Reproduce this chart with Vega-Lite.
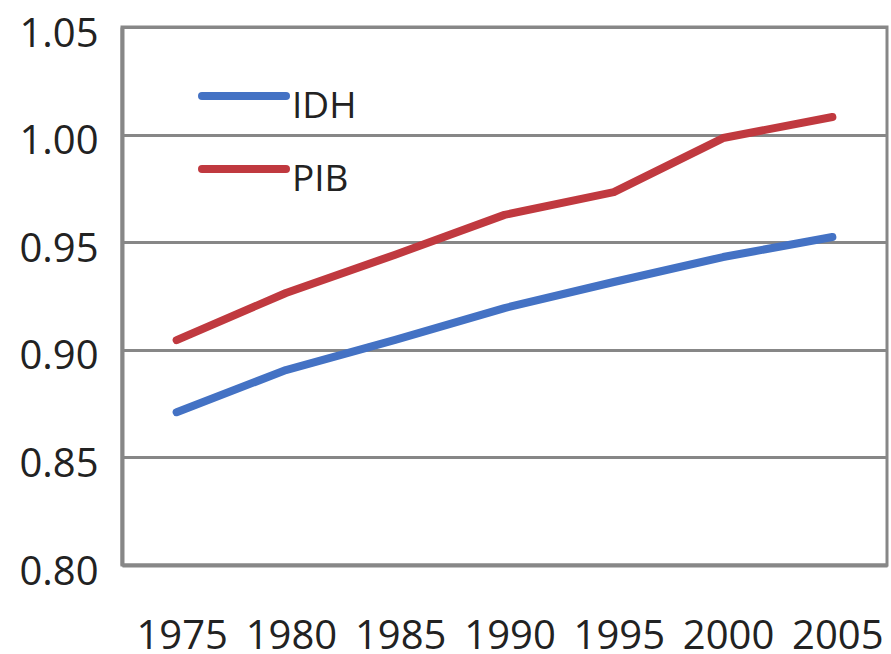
{
  "$schema": "https://vega.github.io/schema/vega-lite/v6.json",
  "width": 765,
  "height": 538,
  "autosize": {"type": "none"},
  "padding": {"left": 122, "top": 27, "right": 4, "bottom": 89},
  "background": "white",
  "config": {
    "view": {"stroke": "#878787", "strokeWidth": 3},
    "font": "Open Sans"
  },
  "data": {
    "values": [
      {"year": "1975", "series": "IDH", "value": 0.871},
      {"year": "1980", "series": "IDH", "value": 0.8906},
      {"year": "1985", "series": "IDH", "value": 0.9046},
      {"year": "1990", "series": "IDH", "value": 0.9194},
      {"year": "1995", "series": "IDH", "value": 0.9315},
      {"year": "2000", "series": "IDH", "value": 0.9431},
      {"year": "2005", "series": "IDH", "value": 0.9524},
      {"year": "1975", "series": "PIB", "value": 0.9045},
      {"year": "1980", "series": "PIB", "value": 0.9264},
      {"year": "1985", "series": "PIB", "value": 0.9442},
      {"year": "1990", "series": "PIB", "value": 0.9627},
      {"year": "1995", "series": "PIB", "value": 0.9733},
      {"year": "2000", "series": "PIB", "value": 0.9984},
      {"year": "2005", "series": "PIB", "value": 1.0082}
    ]
  },
  "mark": {"type": "line", "strokeWidth": 8, "strokeCap": "round", "strokeJoin": "round"},
  "encoding": {
    "x": {
      "field": "year",
      "type": "ordinal",
      "scale": {"type": "point", "padding": 0.5},
      "axis": {
        "title": null,
        "labelAngle": 0,
        "ticks": false,
        "tickSize": 0,
        "grid": false,
        "domainColor": "#878787",
        "domainWidth": 4,
        "labelFont": "Open Sans",
        "labelFontSize": 40,
        "labelColor": "#222222",
        "labelBaseline": "alphabetic",
        "labelPadding": 83,
        "labelOffset": 5
      }
    },
    "y": {
      "field": "value",
      "type": "quantitative",
      "scale": {"domain": [0.8, 1.05], "nice": false, "zero": false},
      "axis": {
        "title": null,
        "values": [0.8, 0.85, 0.9, 0.95, 1.0, 1.05],
        "format": ".2f",
        "ticks": false,
        "tickSize": 0,
        "grid": true,
        "gridColor": "#878787",
        "gridWidth": 3,
        "domainColor": "#878787",
        "domainWidth": 4,
        "labelFont": "Open Sans",
        "labelFontSize": 40,
        "labelColor": "#222222",
        "labelBaseline": "alphabetic",
        "labelPadding": 24,
        "labelOffset": 19
      }
    },
    "color": {
      "field": "series",
      "type": "nominal",
      "scale": {"domain": ["IDH", "PIB"], "range": ["#4472C4", "#C0393F"]},
      "legend": {
        "title": null,
        "orient": "none",
        "legendX": 97,
        "legendY": 44,
        "padding": 0,
        "symbolType": "M-2,0H2",
        "symbolSize": 1764,
        "symbolStrokeWidth": 8,
        "labelFont": "Open Sans",
        "labelFontSize": 37,
        "labelColor": "#222222",
        "labelOffset": 23,
        "labelBaseline": "alphabetic",
        "rowPadding": 19,
        "encode": {
          "symbols": {"update": {"strokeCap": {"value": "round"}}},
          "labels": {"update": {"dy": {"value": 22}}}
        }
      }
    }
  }
}
